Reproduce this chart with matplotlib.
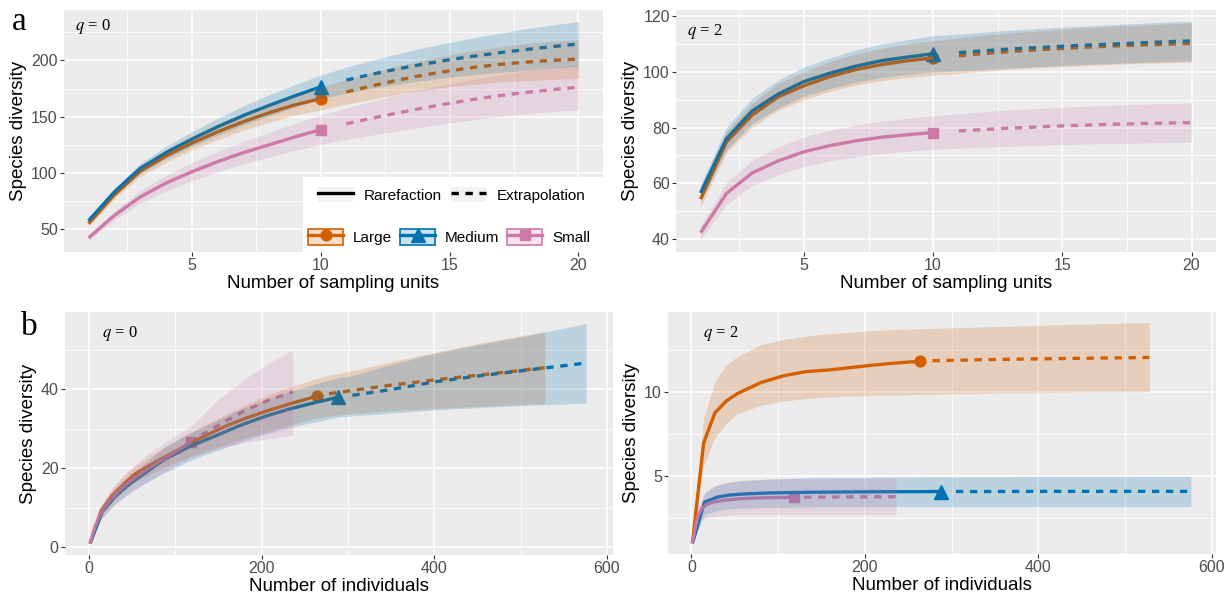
import matplotlib
matplotlib.use('Agg')
import matplotlib.pyplot as plt
from matplotlib.patches import Patch, Rectangle
from matplotlib.lines import Line2D
from matplotlib.legend_handler import HandlerTuple

plt.rcParams['font.family'] = ['Liberation Sans', 'DejaVu Sans']
plt.rcParams['mathtext.fontset'] = 'stix'

groups = ['Large', 'Medium', 'Small']
colors = {'Large': '#D55E00', 'Medium': '#0072B2', 'Small': '#CC79A7'}
markers = {'Large': 'o', 'Medium': '^', 'Small': 's'}
msizes = {'Large': 7.8, 'Medium': 9.4, 'Small': 7.8}

# ---- (a) sample-based curves, 10 sampling units observed, extrapolated to 20
units = [1, 2, 3, 4, 5, 6, 7, 8, 9, 10, 11, 12, 13, 14, 15, 16, 17, 18, 19, 20]
units_obs = {'Large': 10, 'Medium': 10, 'Small': 10}

a_q0_mean = {
    'Large': [55, 80.5, 101.5, 115, 126.5, 136.5, 145.5, 153.5, 160.5, 166,
              172, 177.5, 182.5, 187, 190.8, 194, 196.6, 198.6, 200.1, 201.2],
    'Medium': [57.5, 83, 104, 118, 130, 141, 151, 160, 168.5, 176.5,
               182.5, 187.8, 192.5, 196.8, 200.6, 204.0, 207.0, 209.8, 212.3, 214.6],
    'Small': [42.3, 62.2, 78.6, 91, 101, 110, 118, 125, 132, 138.5,
              143.8, 148.7, 153.4, 157.8, 161.9, 165.6, 168.9, 171.7, 174.1, 176.2],
}
a_q0_lower = {
    'Large': [52.5, 77, 97, 109.5, 120.5, 129.5, 138, 145, 151.5, 156,
              161, 165.5, 170, 173.5, 176.8, 179, 181.1, 182.1, 183.1, 184.2],
    'Medium': [55, 79.5, 99.5, 112.5, 123.5, 133.5, 142.5, 150.5, 158.5, 166,
               171, 175.3, 179, 182.3, 185.1, 187.5, 189.5, 191.3, 193.1, 194.6],
    'Small': [39.8, 58.2, 73.1, 84, 93, 101, 108, 114, 120, 125.5,
              129.8, 133.7, 137.4, 140.8, 144.4, 147.6, 150.4, 152.7, 154.6, 156.2],
}
a_q0_upper = {
    'Large': [57.5, 84, 106, 120.5, 132.5, 143.5, 153, 162, 169.5, 176,
              183, 189.5, 195, 200.5, 204.8, 209, 212.1, 215.1, 217.1, 218.2],
    'Medium': [60, 86.5, 108.5, 123.5, 136.5, 148.5, 159.5, 169.5, 178.5, 187,
               194, 200.3, 206, 211.3, 216.1, 220.5, 224.5, 228.3, 231.5, 234.6],
    'Small': [44.8, 66.2, 84.1, 98, 109, 119, 128, 136, 144, 151.5,
              157.8, 163.7, 169.4, 174.8, 179.4, 183.6, 187.4, 190.7, 193.6, 196.2],
}

a_q2_mean = {
    'Large': [54.3, 74.8, 84.5, 91, 95, 98.3, 100.8, 102.6, 104, 105,
              105.8, 106.6, 107.3, 107.9, 108.4, 108.9, 109.3, 109.6, 109.9, 110.2],
    'Medium': [56.5, 76, 86, 92, 96.5, 99.5, 102, 104, 105.3, 106.5,
               106.9, 107.6, 108.2, 108.7, 109.2, 109.6, 110.0, 110.4, 110.8, 111.1],
    'Small': [42.2, 56.3, 63.7, 68, 71.3, 73.5, 75.2, 76.5, 77.4, 78.2,
              78.8, 79.3, 79.8, 80.2, 80.6, 80.9, 81.2, 81.4, 81.6, 81.8],
}
a_q2_lower = {
    'Large': [51.5, 71, 80.2, 86.2, 90, 93, 95.2, 96.8, 98, 98.8,
              99.5, 100.2, 100.9, 101.4, 101.9, 102.3, 102.7, 103, 103.2, 103.5],
    'Medium': [53.5, 72, 81.5, 87, 91.3, 94, 96.2, 98, 99.1, 100,
               100.3, 100.9, 101.4, 101.9, 102.3, 102.7, 103, 103.4, 103.7, 104],
    'Small': [39.7, 52.3, 59.2, 63, 66, 68, 69.5, 70.7, 71.5, 72.2,
              72.6, 72.9, 73.3, 73.6, 73.9, 74.1, 74.3, 74.4, 74.6, 74.8],
}
a_q2_upper = {
    'Large': [57.1, 78.6, 88.8, 95.8, 100, 103.6, 106.4, 108.4, 110, 111.2,
              112.2, 113.2, 114, 114.7, 115.3, 115.9, 116.4, 116.8, 117.2, 117.6],
    'Medium': [59.5, 80, 90.5, 97, 101.7, 105, 107.8, 110, 111.5, 113,
               113.5, 114.3, 115, 115.5, 116.1, 116.5, 117, 117.4, 117.9, 118.2],
    'Small': [44.7, 60.3, 68.2, 73, 76.6, 79, 80.9, 82.3, 83.3, 84.2,
              85, 85.7, 86.3, 86.8, 87.3, 87.7, 88.1, 88.4, 88.6, 88.8],
}

# ---- (b) individual-based curves, extrapolated to twice the observed size
b_size_obs = {'Large': 264, 'Medium': 288, 'Small': 118}
b_size = {
    'Large': [1, 14, 27, 40, 53, 80, 106, 132, 159, 185, 212, 238, 264,
              278, 300, 350, 400, 450, 500, 528],
    'Medium': [1, 15, 30, 44, 59, 88, 117, 146, 175, 204, 233, 262, 288,
               305, 350, 400, 450, 500, 550, 576],
    'Small': [1, 7, 13, 19, 25, 37, 49, 61, 73, 85, 97, 109, 118,
              130, 150, 180, 208, 236],
}

b_q0_mean = {
    'Large': [1, 9.4, 13.2, 16.0, 18.6, 22.0, 25.0, 28.0, 30.8, 33.0, 35.0, 36.7, 38.3,
              38.9, 39.6, 41.1, 42.4, 43.6, 44.8, 45.5],
    'Medium': [1, 9.0, 12.9, 15.6, 18.0, 22.4, 25.6, 28.2, 30.9, 33.2, 35.1, 36.7, 38.0,
               38.5, 40.0, 41.9, 43.4, 44.7, 46.0, 46.7],
    'Small': [1, 5.4, 8.3, 10.5, 12.2, 14.9, 17.0, 18.9, 20.6, 22.2, 23.8, 25.4, 26.8,
              28.4, 31.0, 34.6, 37.3, 39.4],
}
b_q0_lower = {
    'Large': [1, 8.2, 11.6, 14.2, 16.6, 19.6, 22.0, 24.1, 26.1, 28.0, 29.7, 31.3, 32.8,
              33.2, 33.8, 34.6, 35.2, 35.7, 36.2, 36.5],
    'Medium': [1, 7.6, 11.0, 13.5, 15.6, 19.0, 22.0, 24.4, 26.6, 28.7, 30.4, 31.8, 33.0,
               33.3, 34.0, 34.8, 35.4, 35.9, 36.3, 36.6],
    'Small': [1, 4.3, 6.7, 8.5, 9.9, 12.1, 13.9, 15.6, 17.3, 18.9, 20.4, 21.8, 22.9,
              23.6, 25.0, 26.5, 27.6, 28.4],
}
b_q0_upper = {
    'Large': [1, 10.6, 14.8, 17.9, 20.6, 24.4, 27.7, 30.8, 33.8, 36.5, 39.0, 41.0, 42.8,
              43.6, 44.5, 47.0, 49.4, 51.6, 53.6, 54.6],
    'Medium': [1, 10.4, 14.6, 17.6, 20.3, 25.5, 29.0, 32.0, 34.9, 37.4, 39.6, 41.4, 42.9,
               43.5, 46.3, 49.1, 51.3, 53.3, 55.5, 56.7],
    'Small': [1, 6.6, 10.1, 12.6, 14.6, 17.7, 20.2, 22.4, 24.4, 26.2, 27.9, 29.5, 30.8,
              33.2, 37.5, 42.6, 46.6, 50.0],
}

b_q2_mean = {
    'Large': [1, 6.95, 8.75, 9.45, 9.9, 10.55, 10.95, 11.2, 11.3, 11.45, 11.6, 11.72, 11.82,
              11.85, 11.87, 11.92, 11.96, 11.99, 12.02, 12.04],
    'Medium': [1, 3.45, 3.75, 3.87, 3.93, 3.99, 4.02, 4.04, 4.05, 4.06, 4.07, 4.07, 4.08,
               4.08, 4.08, 4.09, 4.09, 4.09, 4.09, 4.09],
    'Small': [1, 2.6, 3.15, 3.35, 3.45, 3.56, 3.62, 3.66, 3.69, 3.71, 3.72, 3.73, 3.74,
              3.74, 3.75, 3.76, 3.77, 3.77],
}
b_q2_lower = {
    'Large': [1, 5.6, 7.3, 8.1, 8.7, 9.2, 9.45, 9.6, 9.7, 9.75, 9.8, 9.8, 9.85,
              9.86, 9.88, 9.92, 9.95, 9.98, 10.0, 10.0],
    'Medium': [1, 2.7, 2.95, 3.05, 3.1, 3.13, 3.15, 3.16, 3.17, 3.17, 3.18, 3.18, 3.18,
               3.18, 3.18, 3.19, 3.19, 3.19, 3.19, 3.19],
    'Small': [1, 2.1, 2.45, 2.55, 2.6, 2.65, 2.68, 2.7, 2.7, 2.7, 2.7, 2.7, 2.7,
              2.7, 2.7, 2.7, 2.7, 2.7],
}
b_q2_upper = {
    'Large': [1, 8.4, 10.6, 11.6, 12.1, 12.8, 13.1, 13.3, 13.45, 13.55, 13.65, 13.7, 13.75,
              13.77, 13.8, 13.87, 13.95, 14.02, 14.08, 14.1],
    'Medium': [1, 4.0, 4.45, 4.62, 4.72, 4.82, 4.87, 4.9, 4.92, 4.93, 4.94, 4.95, 4.96,
               4.96, 4.96, 4.97, 4.97, 4.97, 4.98, 4.98],
    'Small': [1, 3.1, 3.85, 4.2, 4.4, 4.6, 4.7, 4.75, 4.78, 4.8, 4.82, 4.83, 4.84,
              4.84, 4.85, 4.85, 4.86, 4.86],
}

LW = 2.4
DASH = (0, (2.2, 2.0))


def draw_curves(ax, xs, n_obs, mean, lower, upper):
    for g in groups:
        x = xs[g]
        c = colors[g]
        rare = [i for i, v in enumerate(x) if v <= n_obs[g]]
        ext = [i for i, v in enumerate(x) if v > n_obs[g]]
        i_obs = rare[-1]
        ax.plot(x[i_obs], mean[g][i_obs], marker=markers[g], ms=msizes[g],
                color=c, mec=c, ls='none', zorder=2)
        ax.plot([x[i] for i in rare], [mean[g][i] for i in rare],
                color=c, lw=LW, solid_capstyle='butt', zorder=3)
        ax.plot([x[i] for i in ext], [mean[g][i] for i in ext],
                color=c, lw=LW, ls=DASH, dash_capstyle='butt', zorder=3)
    for g in groups:
        ax.fill_between(xs[g], lower[g], upper[g], color=colors[g],
                        alpha=0.2, lw=0, zorder=4)


def style_axes(ax, xlim, ylim, xmaj, xmin, ymaj, ymin, xlabel, qtext, qpos):
    ax.set_facecolor('#EBEBEB')
    for s in ax.spines.values():
        s.set_visible(False)
    ax.set_xlim(xlim)
    ax.set_ylim(ylim)
    ax.set_xticks(xmaj)
    ax.set_xticks(xmin, minor=True)
    ax.set_yticks(ymaj)
    ax.set_yticks(ymin, minor=True)
    ax.set_axisbelow(True)
    ax.grid(which='major', color='white', lw=1.1)
    ax.grid(which='minor', color='white', lw=0.55)
    ax.tick_params(which='major', length=3, width=0.8, color='#333333',
                   labelsize=11.5, labelcolor='#4D4D4D', pad=1.5)
    ax.tick_params(which='minor', length=0)
    ax.set_xlabel(xlabel, fontsize=13.5, labelpad=1)
    ax.set_ylabel('Species diversity', fontsize=13.5, labelpad=3)
    ax.text(qpos[0], qpos[1], qtext, transform=ax.transAxes, fontsize=12,
            family='Liberation Serif', ha='left', va='center')


fig = plt.figure(figsize=(12.26, 5.96), dpi=100)

ax1 = fig.add_axes([0.0522, 0.5772, 0.4396, 0.4060])
ax2 = fig.add_axes([0.5514, 0.5772, 0.4405, 0.4060])
ax3 = fig.add_axes([0.0530, 0.0688, 0.4470, 0.4077])
ax4 = fig.add_axes([0.5449, 0.0705, 0.4470, 0.4060])

units_x = {g: units for g in groups}
draw_curves(ax1, units_x, units_obs, a_q0_mean, a_q0_lower, a_q0_upper)
draw_curves(ax2, units_x, units_obs, a_q2_mean, a_q2_lower, a_q2_upper)
draw_curves(ax3, b_size, b_size_obs, b_q0_mean, b_q0_lower, b_q0_upper)
draw_curves(ax4, b_size, b_size_obs, b_q2_mean, b_q2_lower, b_q2_upper)

style_axes(ax1, (0.05, 20.95), (29.8, 244.8), [5, 10, 15, 20], [2.5, 7.5, 12.5, 17.5],
           [50, 100, 150, 200], [75, 125, 175, 225], 'Number of sampling units',
           r'$q$ = 0', (0.02, 0.93))
style_axes(ax2, (0.05, 20.95), (35.3, 122.2), [5, 10, 15, 20], [2.5, 7.5, 12.5, 17.5],
           [40, 60, 80, 100, 120], [50, 70, 90, 110], 'Number of sampling units',
           r'$q$ = 2', (0.02, 0.91))
style_axes(ax3, (-28, 607), (-1.9, 59.6), [0, 200, 400, 600], [100, 300, 500],
           [0, 20, 40], [10, 30, 50], 'Number of individuals',
           r'$q$ = 0', (0.067, 0.912))
style_axes(ax4, (-27, 605), (0.37, 14.74), [0, 200, 400, 600], [100, 300, 500],
           [5, 10], [2.5, 7.5, 12.5], 'Number of individuals',
           r'$q$ = 2', (0.064, 0.912))

# legend inside panel a (q = 0): line type row and group row on one white box
ax1.add_patch(Rectangle((0.443, 0.0), 0.557, 0.31, transform=ax1.transAxes,
                        facecolor='white', edgecolor='none', zorder=5))
key_bg = '#F2F2F2'
overlay = {tuple: HandlerTuple(ndivide=1, pad=0)}
type_handles = [
    (Patch(facecolor=key_bg, edgecolor='none'), Line2D([], [], color='black', lw=LW)),
    (Patch(facecolor=key_bg, edgecolor='none'),
     Line2D([], [], color='black', lw=LW, ls=DASH, dash_capstyle='butt')),
]
leg1 = ax1.legend(type_handles, ['Rarefaction', 'Extrapolation'], handler_map=overlay,
                  loc='center left', bbox_to_anchor=(0.471, 0.236), ncol=2,
                  frameon=False, fontsize=11, handlelength=2.3, handleheight=1.1,
                  handletextpad=0.7, columnspacing=0.6, borderpad=0, borderaxespad=0)
leg1.set_zorder(6)
ax1.add_artist(leg1)

group_handles = [
    (Patch(facecolor=colors[g], alpha=0.2, edgecolor='none'),
     Patch(facecolor='none', edgecolor=colors[g], lw=1.2),
     Line2D([], [], color=colors[g], lw=LW, marker=markers[g], ms=msizes[g]))
    for g in groups
]
leg2 = ax1.legend(group_handles, groups, handler_map=overlay,
                  loc='center left', bbox_to_anchor=(0.453, 0.062), ncol=3,
                  frameon=False, fontsize=11, handlelength=2.3, handleheight=1.3,
                  handletextpad=0.65, columnspacing=0.5, borderpad=0, borderaxespad=0)
leg2.set_zorder(6)

fig.text(12 / 1226, 1 - 30 / 596, 'a', fontsize=24, family='Liberation Serif',
         ha='left', va='baseline')
fig.text(21 / 1226, 1 - 335 / 596, 'b', fontsize=24, family='Liberation Serif',
         ha='left', va='baseline')

fig.savefig('out.png', dpi=100, facecolor='white')
